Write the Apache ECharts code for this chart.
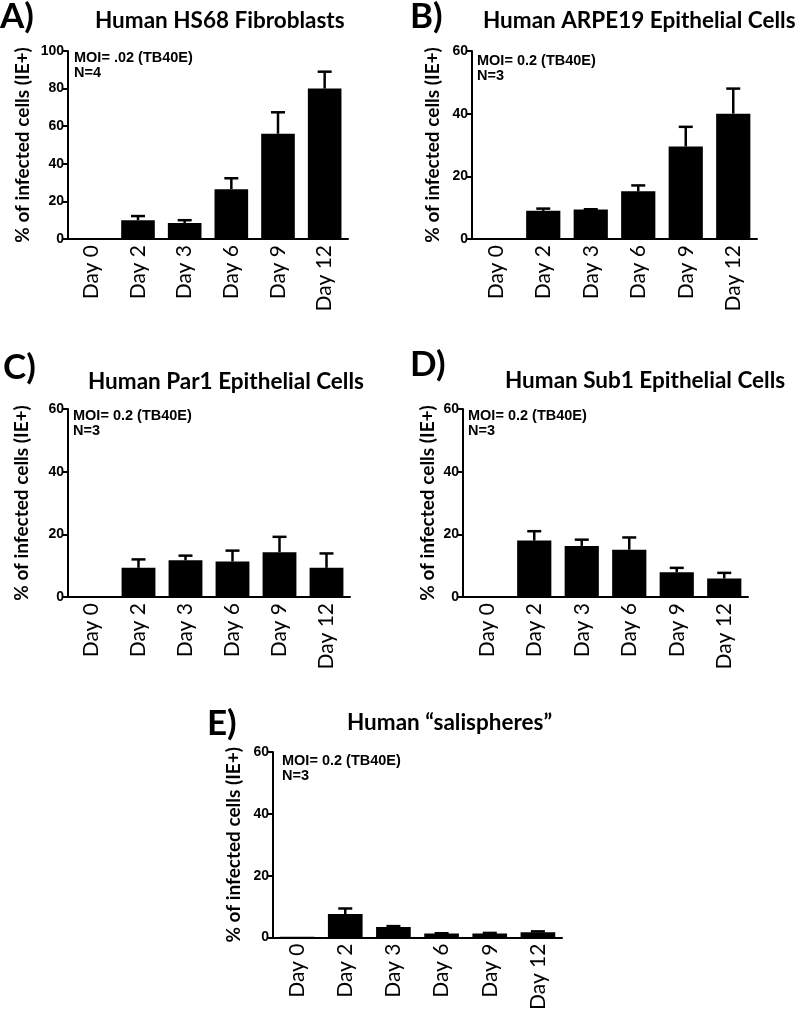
<!DOCTYPE html>
<html><head><meta charset="utf-8">
<script src="https://cdn.jsdelivr.net/npm/echarts@6/dist/echarts.min.js"></script>
<style>html,body{margin:0;padding:0;background:#fff}#c{width:800px;height:1013px}</style>
</head><body><div id="c"></div>
<script>
// ---- data ----
const days = ['Day 0', 'Day 2', 'Day 3', 'Day 6', 'Day 9', 'Day 12'];
const meanA = [0, 10, 8.5, 26.5, 56, 80];
const errA  = [0, 2.2, 1.5, 5.8, 11.4, 9];
const meanB = [0, 9, 9.4, 15.2, 29.5, 40];
const errB  = [0, 0.7, 0.1, 1.9, 6.3, 8];
const meanC = [0, 9.3, 11.7, 11.3, 14.3, 9.3];
const errC  = [0, 2.7, 1.5, 3.5, 4.9, 4.6];
const meanD = [0.3, 18, 16.3, 15.1, 7.9, 5.9];
const errD  = [0, 3, 2, 3.9, 1.4, 1.8];
const meanE = [0.3, 7.6, 3.4, 1.3, 1.3, 1.7];
const errE  = [0, 1.8, 0.3, 0.1, 0.2, 0.3];
const letters = ['A)', 'B)', 'C)', 'D)', 'E)'];
const titles = ['Human HS68 Fibroblasts', 'Human ARPE19 Epithelial Cells', 'Human Par1 Epithelial Cells', 'Human Sub1 Epithelial Cells', 'Human \u201csalispheres\u201d'];
const moiNotes = ['MOI= .02 (TB40E)', 'MOI= 0.2 (TB40E)', 'MOI= 0.2 (TB40E)', 'MOI= 0.2 (TB40E)', 'MOI= 0.2 (TB40E)'];
const nNotes = ['N=4', 'N=3', 'N=3', 'N=3', 'N=3'];
const yMaxes = [100, 60, 60, 60, 60];
const yStep = 20;
const yName = '% of infected cells (IE+)';

const means = [meanA, meanB, meanC, meanD, meanE];
const errs = [errA, errB, errC, errD, errE];

// ---- layout ----
const grids = [
  {left: 68, top: 51, width: 280, height: 188},
  {left: 472, top: 51, width: 285, height: 188},
  {left: 68, top: 409, width: 282, height: 188},
  {left: 463, top: 409, width: 285, height: 188},
  {left: 273, top: 752, width: 289, height: 186}
];
const nameGaps = [36, 30, 37, 26, 30];
const letterPos = [[0, 17], [410, 17], [3, 368], [410, 365], [207, 724]];
const titlePos = [[95, 21], [483, 21], [88, 382], [505, 381], [347, 723]];
const notePos = [[74, 57], [477, 60], [73, 415], [468, 415], [282, 760]];

const chart = echarts.init(document.getElementById('c'), null, {renderer: 'canvas'});

const xAxes = [], yAxes = [], series = [], graphics = [];
grids.forEach((g, i) => {
  xAxes.push({
    type: 'category', gridIndex: i, data: days,
    axisLine: {lineStyle: {color: '#000', width: 2}},
    axisTick: {show: false},
    axisLabel: {rotate: 90, margin: 6, color: '#000', fontFamily: 'Lato', fontSize: 21, interval: 0}
  });
  yAxes.push({
    type: 'value', gridIndex: i, min: 0, max: yMaxes[i], interval: yStep,
    name: yName, nameLocation: 'middle', nameRotate: 90, nameGap: nameGaps[i],
    nameTextStyle: {color: '#000', fontFamily: 'Lato', fontWeight: 'bold', fontSize: 19},
    axisLine: {show: true, lineStyle: {color: '#000', width: 2}},
    axisTick: {show: true, length: 5, lineStyle: {color: '#000', width: 2}},
    axisLabel: {color: '#000', fontFamily: 'Liberation Sans', fontWeight: 'bold', fontSize: 14, margin: 4},
    splitLine: {show: false}
  });
  series.push({
    type: 'bar', xAxisIndex: i, yAxisIndex: i, data: means[i],
    barCategoryGap: '28%', itemStyle: {color: '#000'}, silent: true
  });
  series.push({
    type: 'custom', xAxisIndex: i, yAxisIndex: i, z: 3, silent: true,
    data: means[i].map((m, k) => [k, m, errs[i][k]]),
    renderItem: function (params, api) {
      const e = api.value(2);
      if (!(e > 0)) return null;
      const p0 = api.coord([api.value(0), api.value(1)]);
      const p1 = api.coord([api.value(0), api.value(1) + e]);
      const style = {stroke: '#000', lineWidth: 2.5, fill: null};
      return {type: 'group', children: [
        {type: 'line', shape: {x1: p0[0], y1: p0[1], x2: p1[0], y2: p1[1]}, style: style},
        {type: 'line', shape: {x1: p1[0] - 7, y1: p1[1], x2: p1[0] + 7, y2: p1[1]}, style: style}
      ]};
    }
  });
  graphics.push({type: 'text', x: letterPos[i][0], y: letterPos[i][1],
    style: {text: letters[i], font: 'bold 35px Lato', fill: '#000', textVerticalAlign: 'middle'}});
  graphics.push({type: 'text', x: titlePos[i][0], y: titlePos[i][1],
    style: {text: titles[i], font: 'bold 22.5px Lato', fill: '#000', textVerticalAlign: 'middle'}});
  graphics.push({type: 'text', x: notePos[i][0], y: notePos[i][1] - 7,
    style: {text: moiNotes[i] + '\n' + nNotes[i], font: 'bold 14.5px "Liberation Sans"', lineHeight: 15, fill: '#000', textVerticalAlign: 'top'}});
});

chart.setOption({
  animation: false,
  backgroundColor: '#fff',
  grid: grids.map(g => Object.assign({containLabel: false}, g)),
  xAxis: xAxes, yAxis: yAxes, series: series, graphic: graphics
});
</script></body></html>
